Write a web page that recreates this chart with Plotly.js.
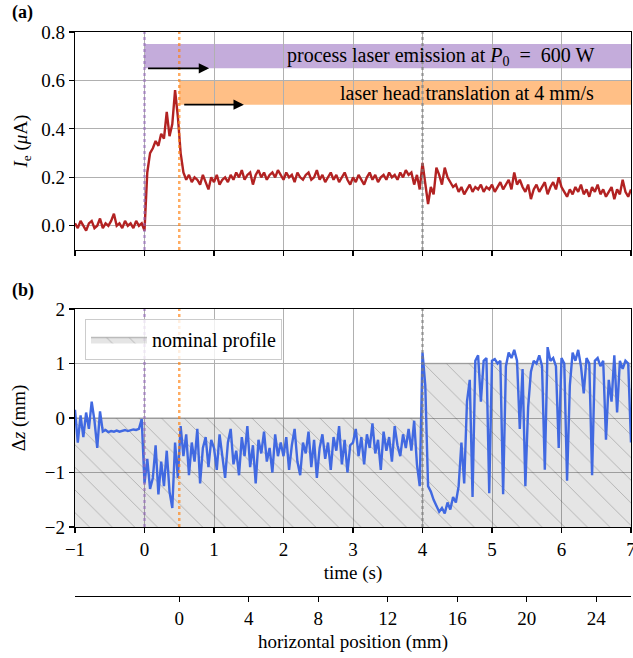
<!DOCTYPE html>
<html>
<head>
<meta charset="utf-8">
<script src="https://cdn.plot.ly/plotly-3.0.1.min.js"></script>
<style>html,body{margin:0;padding:0;background:#fff}#chart{width:633px;height:658px}</style>
</head>
<body>
<div id="chart"></div>
<script>
// ---- data ----
const time = [
  -1.00,-0.96,-0.92,-0.88,-0.84,-0.80,-0.76,-0.72,-0.68,-0.64,-0.60,-0.56,-0.52,-0.48,-0.44,-0.40,-0.36,-0.32,-0.28,-0.24,-0.20,-0.16,-0.12,-0.08,-0.04,
  0.00,0.04,0.08,0.12,0.16,0.20,0.24,0.28,0.32,0.36,0.40,0.44,0.48,0.52,0.56,0.60,0.64,0.68,0.72,0.76,0.80,0.84,0.88,0.92,0.96,
  1.00,1.04,1.08,1.12,1.16,1.20,1.24,1.28,1.32,1.36,1.40,1.44,1.48,1.52,1.56,1.60,1.64,1.68,1.72,1.76,1.80,1.84,1.88,1.92,1.96,
  2.00,2.04,2.08,2.12,2.16,2.20,2.24,2.28,2.32,2.36,2.40,2.44,2.48,2.52,2.56,2.60,2.64,2.68,2.72,2.76,2.80,2.84,2.88,2.92,2.96,
  3.00,3.04,3.08,3.12,3.16,3.20,3.24,3.28,3.32,3.36,3.40,3.44,3.48,3.52,3.56,3.60,3.64,3.68,3.72,3.76,3.80,3.84,3.88,3.92,3.96,
  4.00,4.04,4.08,4.12,4.16,4.20,4.24,4.28,4.32,4.36,4.40,4.44,4.48,4.52,4.56,4.60,4.64,4.68,4.72,4.76,4.80,4.84,4.88,4.92,4.96,
  5.00,5.04,5.08,5.12,5.16,5.20,5.24,5.28,5.32,5.36,5.40,5.44,5.48,5.52,5.56,5.60,5.64,5.68,5.72,5.76,5.80,5.84,5.88,5.92,5.96,
  6.00,6.04,6.08,6.12,6.16,6.20,6.24,6.28,6.32,6.36,6.40,6.44,6.48,6.52,6.56,6.60,6.64,6.68,6.72,6.76,6.80,6.84,6.88,6.92,6.96,
  7.00
];
const currentUA = [
  0.01,-0.01,0.02,0.00,-0.02,0.01,0.02,-0.01,0.00,0.03,-0.01,0.01,0.00,0.02,0.05,0.00,0.01,-0.01,0.02,0.00,0.01,-0.01,0.02,0.00,0.01,
  -0.02,0.22,0.30,0.32,0.35,0.33,0.38,0.36,0.47,0.37,0.42,0.56,0.45,0.30,0.22,0.19,0.21,0.18,0.20,0.19,0.17,0.21,0.18,0.15,0.20,
  0.18,0.21,0.17,0.19,0.20,0.18,0.21,0.19,0.22,0.20,0.23,0.19,0.21,0.22,0.17,0.21,0.23,0.20,0.22,0.19,0.21,0.22,0.20,0.23,0.21,
  0.19,0.22,0.20,0.21,0.18,0.22,0.20,0.19,0.21,0.22,0.19,0.20,0.23,0.19,0.21,0.18,0.20,0.22,0.19,0.21,0.18,0.20,0.22,0.19,0.17,
  0.20,0.18,0.21,0.19,0.17,0.20,0.22,0.19,0.21,0.18,0.20,0.21,0.19,0.22,0.20,0.21,0.19,0.22,0.20,0.23,0.21,0.22,0.17,0.21,0.15,
  0.26,0.18,0.09,0.16,0.13,0.24,0.21,0.17,0.24,0.20,0.18,0.16,0.17,0.14,0.16,0.13,0.15,0.17,0.14,0.16,0.15,0.17,0.14,0.16,0.15,
  0.17,0.14,0.16,0.18,0.15,0.17,0.19,0.15,0.22,0.17,0.19,0.16,0.14,0.17,0.11,0.15,0.17,0.14,0.16,0.18,0.13,0.16,0.18,0.15,0.20,
  0.16,0.14,0.12,0.15,0.13,0.16,0.14,0.17,0.13,0.15,0.12,0.16,0.14,0.17,0.13,0.15,0.12,0.14,0.16,0.11,0.15,0.13,0.19,0.14,0.12,
  0.15
];
const deltaZmm = [
  0.15,-0.45,0.05,-0.35,0.10,-0.20,0.30,-0.05,-0.55,0.12,-0.25,-0.22,-0.26,-0.24,-0.25,-0.23,-0.25,-0.24,-0.22,-0.24,-0.23,-0.21,-0.22,-0.20,-0.02,
  -1.20,-0.75,-1.30,-1.10,-0.50,-1.40,-0.80,-1.25,-0.60,-1.35,-1.65,-0.45,-1.10,-0.15,-0.70,-0.30,-1.05,-0.45,-0.80,-0.20,-1.20,-0.55,-0.35,-0.90,-0.40,
  -0.55,-0.95,-0.30,-0.75,-1.10,-0.45,-0.20,-0.85,-0.60,-1.05,-0.35,-0.70,-0.15,-0.90,-0.50,-1.20,-0.40,-0.65,-0.25,-0.80,-0.55,-1.00,-0.30,-0.70,-0.45,
  -0.70,-0.35,-0.95,-0.50,-0.20,-0.80,-1.05,-0.45,-0.65,-0.25,-0.90,-0.40,-1.10,-0.55,-0.30,-0.75,-0.45,-0.95,-0.35,-0.60,-0.15,-0.85,-0.40,-1.00,-0.50,
  -0.45,-0.20,-0.70,-0.35,-0.85,-0.30,-0.55,-0.10,-0.65,-0.40,-0.95,-0.25,-0.60,-0.35,-0.80,-0.15,-0.50,-0.70,-0.30,-0.55,-0.20,-0.60,-0.05,-0.85,-1.25,
  1.20,0.60,-1.25,-1.35,-1.50,-1.60,-1.72,-1.65,-1.75,-1.55,-1.68,-1.45,-1.55,-1.25,-0.45,-1.20,0.30,0.70,-1.45,1.05,1.15,0.30,1.05,1.10,-1.38,
  1.05,1.08,1.00,1.05,-1.40,0.95,1.20,1.10,1.25,1.05,-0.20,0.90,-1.25,0.20,0.85,1.05,1.00,1.15,0.95,-0.95,1.30,1.05,1.10,0.95,-0.55,
  1.10,1.00,-1.15,0.60,1.20,1.05,1.25,0.95,0.45,1.10,1.00,-1.05,1.05,1.10,0.95,1.05,-0.40,0.70,0.30,1.15,0.10,1.05,0.90,1.05,1.00,
  -0.45
];
// nominal profile (step of +1 mm at t = 4 s), bottom of the hatched area at -2 mm
const profileTime  = [-1, 4, 4, 7];
const profileDepth = [0, 0, 1, 1];
const profileFloorTime  = [-1, 7];
const profileFloorDepth = [-2, -2];
// event times (s)
const laserOnTime = 0;
const translationStartTime = 0.5;
const stepTime = 4;
// tick labels
const timeTicks = [-1, 0, 1, 2, 3, 4, 5, 6, 7];
const currentTicks = [0.0, 0.2, 0.4, 0.6, 0.8];
const dzTicks = [-2, -1, 0, 1, 2];
const positionTicks = [0, 4, 8, 12, 16, 20, 24];
const scanSpeed = 4; // mm/s

// ---- figure ----
const FONT = '"Liberation Serif", "Times New Roman", Times, serif';
const tRange = [-1, 7];
const posRange = tRange.map(t => scanSpeed * (t - translationStartTime));

const traces = [
  {x: time, y: currentUA, xaxis: 'x', yaxis: 'y', mode: 'lines',
   line: {color: '#b22222', width: 2.4}, showlegend: false, hoverinfo: 'skip'},
  {x: profileFloorTime, y: profileFloorDepth, xaxis: 'x2', yaxis: 'y2', mode: 'lines',
   line: {width: 0, color: 'rgba(0,0,0,0)'}, showlegend: false, hoverinfo: 'skip'},
  {x: profileTime, y: profileDepth, xaxis: 'x2', yaxis: 'y2', mode: 'lines', name: 'nominal profile',
   fill: 'tonexty', fillcolor: 'rgba(0,0,0,0.1)',
   fillpattern: {shape: '\\', bgcolor: 'rgba(0,0,0,0.1)', fgcolor: 'rgba(0,0,0,0.22)', size: 16, solidity: 0.06},
   line: {color: 'rgba(150,150,150,0.6)', width: 1.5}, hoverinfo: 'skip'},
  {x: time, y: deltaZmm, xaxis: 'x2', yaxis: 'y2', mode: 'lines',
   line: {color: '#4169e1', width: 2.4}, showlegend: false, hoverinfo: 'skip'},
  {x: posRange, y: [null, null], xaxis: 'x3', yaxis: 'y2', mode: 'lines', showlegend: false, hoverinfo: 'skip'}
];

function vline(t, color, yref) {
  return {type: 'line', xref: yref === 'y' ? 'x' : 'x2', yref: yref + ' domain', x0: t, x1: t, y0: 0, y1: 1,
          line: {color: color, width: 2.5, dash: 'dot'}, layer: 'above'};
}
const purpleLine = 'rgba(148,103,189,0.6)';
const orangeLine = 'rgba(255,127,14,0.65)';
const grayLine = 'rgba(128,128,128,0.65)';

const axisCommon = {
  showline: true, linecolor: 'black', linewidth: 1.3, mirror: true,
  ticks: 'outside', ticklen: 5, tickwidth: 1.1, tickcolor: 'black',
  showgrid: true, gridcolor: '#b0b0b0', gridwidth: 1, zeroline: false, ticklabeloverflow: 'allow',
  tickfont: {family: FONT, size: 19, color: 'black'}
};

const layout = {
  width: 633, height: 658,
  margin: {l: 75, r: 2, t: 32, b: 62},
  paper_bgcolor: 'white', plot_bgcolor: 'white',
  font: {family: FONT, size: 18, color: 'black'},
  showlegend: true,
  legend: {x: 0.018, y: 0.491, xanchor: 'left', yanchor: 'top', bgcolor: 'rgba(255,255,255,0.8)',
           bordercolor: '#cccccc', borderwidth: 1, font: {family: FONT, size: 20}, itemwidth: 56},
  xaxis: Object.assign({}, axisCommon, {domain: [0, 1], anchor: 'y', range: tRange, tickvals: timeTicks, showticklabels: false}),
  yaxis: Object.assign({}, axisCommon, {domain: [0.6135, 1], anchor: 'x', range: [-0.1, 0.8], tickvals: currentTicks, tickformat: '.1f',
    title: {text: '<i>I</i><sub>e</sub> (<i>μ</i>A)', font: {family: FONT, size: 19}, standoff: 8}}),
  xaxis2: Object.assign({}, axisCommon, {domain: [0, 1], anchor: 'y2', range: tRange, tickvals: timeTicks,
    title: {text: 'time (s)', font: {family: FONT, size: 19}, standoff: 6}}),
  yaxis2: Object.assign({}, axisCommon, {domain: [0.1223, 0.5089], anchor: 'x2', range: [-2, 2], tickvals: dzTicks,
    title: {text: 'Δ<i>z</i> (mm)', font: {family: FONT, size: 19}, standoff: 14}}),
  xaxis3: {overlaying: 'x2', anchor: 'free', position: 0, side: 'bottom', range: posRange, tickvals: positionTicks,
    showline: true, linecolor: 'black', linewidth: 1.3, ticks: 'outside', ticklen: 5, tickwidth: 1.1, tickcolor: 'black',
    showgrid: false, zeroline: false, ticklabeloverflow: 'allow', tickfont: {family: FONT, size: 19, color: 'black'},
    title: {text: 'horizontal position (mm)', font: {family: FONT, size: 19}, standoff: 6}},
  shapes: [
    {type: 'rect', xref: 'x', yref: 'y', x0: laserOnTime, x1: tRange[1], y0: 0.65, y1: 0.75,
     fillcolor: 'rgba(148,103,189,0.55)', line: {width: 0}, layer: 'below'},
    {type: 'rect', xref: 'x', yref: 'y', x0: translationStartTime, x1: tRange[1], y0: 0.5, y1: 0.6,
     fillcolor: 'rgba(255,127,14,0.5)', line: {width: 0}, layer: 'below'},
    vline(laserOnTime, purpleLine, 'y'), vline(translationStartTime, orangeLine, 'y'), vline(stepTime, grayLine, 'y'),
    vline(laserOnTime, purpleLine, 'y2'), vline(translationStartTime, orangeLine, 'y2'), vline(stepTime, grayLine, 'y2')
  ],
  annotations: [
    {xref: 'x', yref: 'y', x: 6.5, y: 0.70, xanchor: 'right', yanchor: 'middle', showarrow: false,
     text: 'process laser emission at <i>P</i><sub>0</sub>  =  600 W', font: {family: FONT, size: 20}},
    {xref: 'x', yref: 'y', x: 6.5, y: 0.55, xanchor: 'right', yanchor: 'middle', showarrow: false,
     text: 'laser head translation at 4 mm/s', font: {family: FONT, size: 20}},
    {xref: 'x', yref: 'y', axref: 'x', ayref: 'y', x: 0.93, y: 0.65, ax: laserOnTime + 0.03, ay: 0.65, text: '',
     showarrow: true, arrowhead: 2, arrowsize: 1.3, arrowwidth: 1.6, arrowcolor: 'black'},
    {xref: 'x', yref: 'y', axref: 'x', ayref: 'y', x: 1.43, y: 0.5, ax: translationStartTime + 0.05, ay: 0.5, text: '',
     showarrow: true, arrowhead: 2, arrowsize: 1.3, arrowwidth: 1.6, arrowcolor: 'black'},
    {xref: 'paper', yref: 'paper', x: -0.117, y: 1.035, xanchor: 'left', yanchor: 'middle', showarrow: false,
     text: '<b>(a)</b>', font: {family: FONT, size: 18}},
    {xref: 'paper', yref: 'paper', x: -0.117, y: 0.5408, xanchor: 'left', yanchor: 'middle', showarrow: false,
     text: '<b>(b)</b>', font: {family: FONT, size: 18}}
  ]
};

Plotly.newPlot('chart', traces, layout, {staticPlot: true, displayModeBar: false});
</script>
</body>
</html>
